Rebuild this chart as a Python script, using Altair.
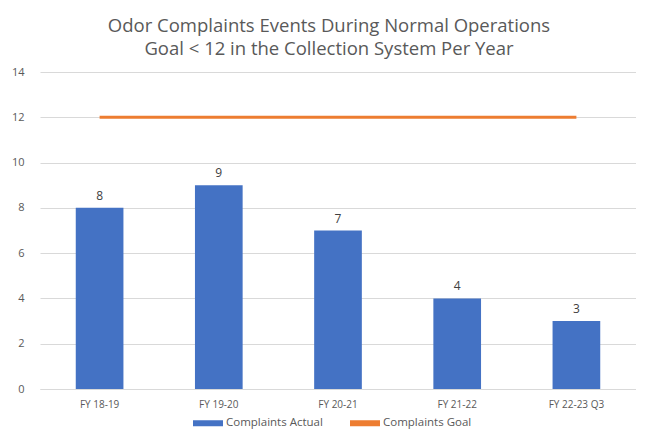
import altair as alt
import pandas as pd

categories = ["FY 18-19", "FY 19-20", "FY 20-21", "FY 21-22", "FY 22-23 Q3"]
actual = [8, 9, 7, 4, 3]
goal = [12, 12, 12, 12, 12]

df = pd.DataFrame({
    "fy": categories,
    "actual": actual,
    "goal": goal,
    "s_actual": ["Complaints Actual"] * len(categories),
    "s_goal": ["Complaints Goal"] * len(categories),
})

grey = "#595959"
color_scale = alt.Scale(domain=["Complaints Actual", "Complaints Goal"],
                        range=["#4472C4", "#ED7D31"])

x = alt.X("fy:N", sort=categories, title=None,
          scale=alt.Scale(paddingInner=0.6, paddingOuter=0.3),
          axis=alt.Axis(labelAngle=0, labelColor=grey, labelFontSize=10,
                        labelFont="Open Sans", ticks=False, domainColor="#D9D9D9",
                        labelPadding=10))
y_axis = alt.Axis(values=list(range(0, 15, 2)), labelColor=grey, labelFontSize=11,
                  labelFont="Open Sans", ticks=False, domain=False,
                  gridColor="#D9D9D9", labelPadding=16)

bars = alt.Chart(df).mark_bar().encode(
    x=x,
    y=alt.Y("actual:Q", title=None, scale=alt.Scale(domain=[0, 14]), axis=y_axis),
    color=alt.Color("s_actual:N", scale=color_scale, title=None),
)

labels = alt.Chart(df).mark_text(dy=-12, fontSize=12, color="#404040",
                                 font="Open Sans").encode(
    x=alt.X("fy:N", sort=categories),
    y=alt.Y("actual:Q"),
    text=alt.Text("actual:Q"),
)

line = alt.Chart(df).mark_line(strokeWidth=3).encode(
    x=alt.X("fy:N", sort=categories),
    y=alt.Y("goal:Q"),
    color=alt.Color("s_goal:N", scale=color_scale, title=None),
)

chart = alt.layer(bars, line, labels).properties(
    width=596, height=317,
    autosize=alt.AutoSizeParams(type="none"),
    padding={"left": 32, "top": 64, "right": 0, "bottom": 40},
    title=alt.TitleParams(
        ["Odor Complaints Events During Normal Operations",
         "Goal < 12 in the Collection System Per Year"],
        fontSize=18.5, font="Open Sans", fontWeight="normal", color=grey,
        anchor="middle", dx=-9, offset=8, lineHeight=23),
).configure_view(stroke=None).configure_legend(
    orient="none", legendX=162, legendY=345, direction="horizontal",
    labelColor=grey, labelFontSize=11.5,
    labelFont="Open Sans", symbolType="M-2.5,-0.5H2.5V0.5H-2.5Z",
    symbolSize=144, symbolStrokeWidth=0, columnPadding=27, labelOffset=12,
)

chart.save("out.html", embed_options={"renderer": "svg", "actions": False})
